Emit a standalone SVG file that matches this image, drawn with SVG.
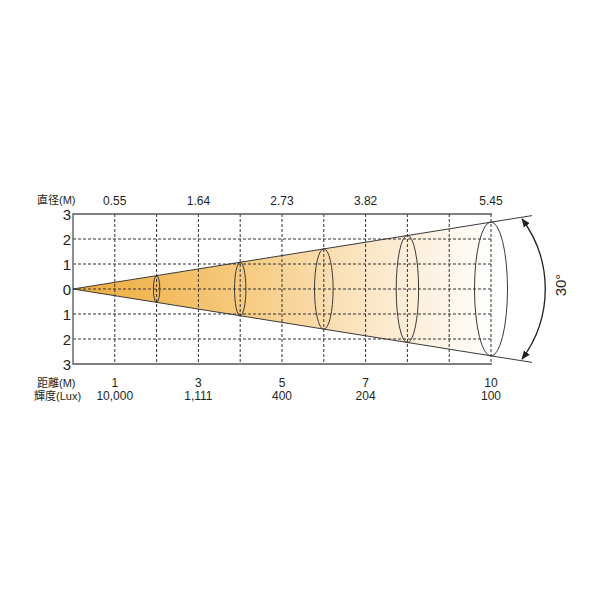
<svg xmlns="http://www.w3.org/2000/svg" width="600" height="600" viewBox="0 0 600 600">
<style>
.t{font-family:"Liberation Sans","Noto Sans CJK JP",sans-serif;fill:#231f20}
.lab{font-size:11px}
.ax{font-size:15px;text-anchor:end}
.num{font-size:12px;text-anchor:middle}
.dash{stroke:#333;stroke-width:1;stroke-dasharray:3 2;fill:none}
.frame{stroke:#555;stroke-width:1.3;fill:none}
.ell{fill:none;stroke:#3a3a3a;stroke-width:1}
.cone{stroke:#3a3a3a;stroke-width:1;fill:none}
</style>
<defs>
<linearGradient id="g" gradientUnits="userSpaceOnUse" x1="73" y1="0" x2="495" y2="0">
<stop offset="0" stop-color="#eeab3c"/>
<stop offset="0.4" stop-color="#f6ca7e"/>
<stop offset="0.7" stop-color="#fbe6c6"/>
<stop offset="1" stop-color="#ffffff"/>
</linearGradient>
<marker id="ah" viewBox="0 0 10 10" refX="9" refY="5" markerWidth="9" markerHeight="9" orient="auto-start-reverse" markerUnits="userSpaceOnUse">
<path d="M0,1 L10,5 L0,9 Z" fill="#231f20"/>
</marker>
</defs>
<rect width="600" height="600" fill="#fff"/>
<g id="beam">
<polygon points="73,289 492,222 492,356" fill="url(#g)"/>
</g>
<g id="grid">
<g class="dash">
<path d="M73,239H492M73,264H492M73,289H492M73,314H492M73,339H492"/>
<path d="M114.8,214V364M156.6,214V364M198.4,214V364M240.2,214V364M282,214V364M323.8,214V364M365.6,214V364M407.4,214V364M449.2,214V364M491,214V364"/>
</g>
<path class="frame" d="M492,214H73V364H492"/>
</g>
<g id="connectors">
<path class="cone" d="M73,289L532,215.6M73,289L532,362.4"/>
<ellipse class="ell" cx="156.6" cy="289" rx="3.2" ry="13.4"/>
<ellipse class="ell" cx="240.2" cy="289" rx="5.7" ry="26.7"/>
<ellipse class="ell" cx="323.8" cy="289" rx="9.3" ry="40.3"/>
<ellipse class="ell" cx="407.4" cy="289" rx="11.2" ry="53.7"/>
<ellipse class="ell" cx="491" cy="289" rx="16.5" ry="67"/>
<path d="M522,219 A117,117 0 0 1 522,359" fill="none" stroke="#231f20" stroke-width="1.3" marker-start="url(#ah)" marker-end="url(#ah)"/>
</g>
<g id="labels">
<text class="t lab" x="37" y="204">直径(M)</text>
<text class="t lab" x="37" y="387">距離(M)</text>
<text class="t lab" x="34" y="400">輝度(Lux)</text>
<g class="t num">
<text x="114.8" y="205">0.55</text>
<text x="198.4" y="205">1.64</text>
<text x="282" y="205">2.73</text>
<text x="365.6" y="205">3.82</text>
<text x="491" y="205">5.45</text>
<text x="114.8" y="387">1</text>
<text x="198.4" y="387">3</text>
<text x="282" y="387">5</text>
<text x="365.6" y="387">7</text>
<text x="491" y="387">10</text>
<text x="114.8" y="400">10,000</text>
<text x="198.4" y="400">1,111</text>
<text x="282" y="400">400</text>
<text x="365.6" y="400">204</text>
<text x="491" y="400">100</text>
</g>
<g class="t ax">
<text x="71" y="219.5">3</text>
<text x="71" y="244.5">2</text>
<text x="71" y="269.5">1</text>
<text x="71" y="294.5">0</text>
<text x="71" y="319.5">1</text>
<text x="71" y="344.5">2</text>
<text x="71" y="369.5">3</text>
</g>
<text class="t" x="0" y="0" font-size="15" text-anchor="middle" transform="translate(566,285) rotate(-90)">30°</text>
</g>
</svg>
